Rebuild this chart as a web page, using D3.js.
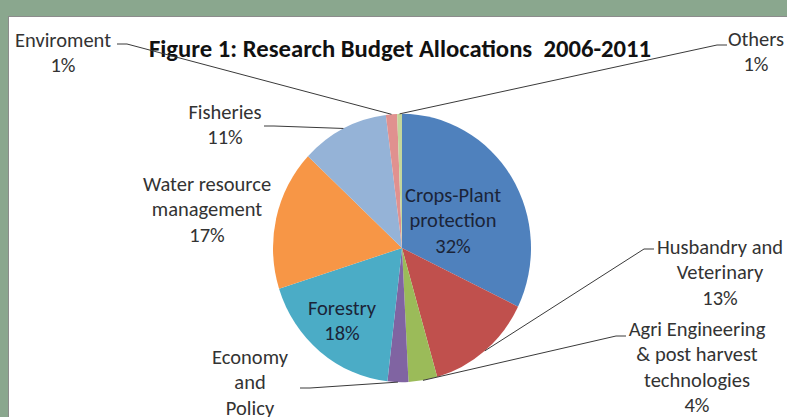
<!DOCTYPE html>
<html>
<head>
<meta charset="utf-8">
<script src="https://cdn.jsdelivr.net/npm/d3@7"></script>
<style>
  body { margin: 0; background: #8aa78e; }
  svg { display: block; }
</style>
</head>
<body>
<div id="chart"></div>
<script>

// data
var categories = ["Crops-Plant protection", "Husbandry and Veterinary", "Agri Engineering & post harvest technologies",
  "Economy and Policy", "Forestry", "Water resource management", "Fisheries", "Enviroment", "Others"];
var values = [32.2, 13.4, 3.6, 2.6, 18.3, 16.9, 11.0, 1.4, 0.6];
var labelLines = [["Crops-Plant", "protection"], ["Husbandry and", "Veterinary"], ["Agri Engineering", "& post harvest", "technologies"],
  ["Economy", "and", "Policy"], ["Forestry"], ["Water resource", "management"], ["Fisheries"], ["Enviroment"], ["Others"]];
var colors = ["#4f81bd", "#c0504d", "#9bbb59", "#8064a2", "#4bacc6", "#f79646", "#95b3d7", "#e0918f", "#c3d69b"];
var title = "Figure 1: Research Budget Allocations  2006-2011";

// label placement (x = text centre, y = first baseline, lx/ly = where the leader line meets the label)
var labelPos = [
  {x: 453, y: 202, inside: true},
  {x: 720, y: 254, lx: 654, ly: 249, side: "right"},
  {x: 697, y: 336, lx: 626, ly: 336, side: "right"},
  {x: 250, y: 364, lx: 300, ly: 388, side: "left"},
  {x: 342, y: 315, inside: true},
  {x: 207, y: 191},
  {x: 225, y: 119, lx: 264, ly: 126, side: "left"},
  {x: 63, y: 47, lx: 117, ly: 44, side: "left"},
  {x: 756, y: 46, lx: 727, ly: 45, side: "right"}
];

var width = 787, height = 417;
var cx = 402, cy = 248, radius = 129, yScale = 1.04;
var lineGap = 25.3;
var font = "Carlito, Lato, 'Open Sans', sans-serif";

var svg = d3.select("#chart").append("svg")
  .attr("width", width)
  .attr("height", height);

svg.append("rect")
  .attr("x", 8.5)
  .attr("y", 16.5)
  .attr("width", width)
  .attr("height", height)
  .attr("fill", "#ffffff")
  .attr("stroke", "#8c8c8c")
  .attr("stroke-width", 1);

svg.append("text")
  .attr("x", 400)
  .attr("y", 57)
  .attr("text-anchor", "middle")
  .attr("font-family", font)
  .attr("font-weight", "bold")
  .attr("font-size", "24.7px")
  .attr("fill", "#111")
  .style("white-space", "pre")
  .text(title);

var pie = d3.pie()
  .sort(null)
  .value(function(d) { return d; });

var arc = d3.arc()
  .innerRadius(0)
  .outerRadius(radius);

var arcs = pie(values);

var g = svg.append("g")
  .attr("transform", "translate(" + cx + "," + cy + ") scale(1," + yScale + ")");

g.selectAll("path")
  .data(arcs)
  .enter()
  .append("path")
  .attr("d", arc)
  .attr("fill", function(d, i) { return colors[i]; });

// leader lines
function edgePoint(d) {
  var a = (d.startAngle + d.endAngle) / 2;
  return [cx + radius * Math.sin(a), cy - radius * yScale * Math.cos(a)];
}

svg.selectAll(".leader")
  .data(arcs.filter(function(d, i) { return labelPos[i].lx !== undefined; }))
  .enter()
  .append("polyline")
  .attr("class", "leader")
  .attr("fill", "none")
  .attr("stroke", "#3a3a3a")
  .attr("stroke-width", 1)
  .attr("points", function(d) {
    var p = labelPos[d.index];
    var e = edgePoint(d);
    var kx = p.side === "left" ? p.lx + 10 : p.lx - 10;
    return [[p.lx, p.ly], [kx, p.ly], e].map(function(q) { return q.join(","); }).join(" ");
  });

// labels
var labels = svg.selectAll(".label")
  .data(arcs)
  .enter()
  .append("text")
  .attr("class", "label")
  .attr("text-anchor", "middle")
  .attr("font-family", font)
  .attr("font-size", "20.5px")
  .attr("fill", function(d, i) { return labelPos[i].inside ? "#1b2438" : "#333"; });

labels.each(function(d, i) {
  var p = labelPos[i];
  var lines = labelLines[i].concat([Math.round(d.data) + "%"]);
  d3.select(this).selectAll("tspan")
    .data(lines)
    .enter()
    .append("tspan")
    .attr("x", p.x)
    .attr("y", function(t, j) { return p.y + j * lineGap; })
    .text(function(t) { return t; });
});

</script>
</body>
</html>
